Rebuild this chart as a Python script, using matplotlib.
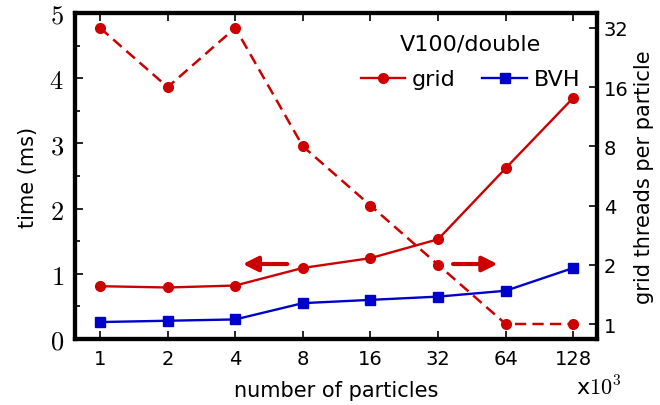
import matplotlib
matplotlib.use("Agg")
import matplotlib.pyplot as plt
from matplotlib.ticker import FuncFormatter, FixedLocator, NullLocator

plt.rcParams['font.family'] = ['DejaVu Sans']
plt.rcParams['mathtext.fontset'] = 'cm'

particles = ["1", "2", "4", "8", "16", "32", "64", "128"]
grid_time = [0.81, 0.79, 0.82, 1.09, 1.24, 1.53, 2.62, 3.70]
bvh_time = [0.26, 0.28, 0.30, 0.55, 0.60, 0.65, 0.74, 1.09]
grid_threads = [32, 16, 32, 8, 4, 2, 1, 1]
threads_ticks = [1, 2, 4, 8, 16, 32]

red = '#cc0000'
blue = '#0000cc'

fig = plt.figure(figsize=(6.6, 4.06), dpi=100)
ax = fig.add_axes([75/660, 1-340/406, (597-75)/660, (340-14)/406])
ax2 = ax.twinx()

x = list(range(len(particles)))
ax.plot(x, grid_time, '-o', color=red, lw=1.7, ms=7, label='grid', zorder=3)
ax.plot(x, bvh_time, '-s', color=blue, lw=1.7, ms=6.5, label='BVH', zorder=3)
ax2.plot(x, grid_threads, marker='o', color=red, lw=1.8, ms=7, linestyle=(0, (4.5, 2.5)))

ax.set_xlim(-0.37, 7.35)
ax.set_ylim(0, 5)
ax.set_xticks(x)
ax.set_xticklabels(particles, fontsize=14)
ax.set_yticks([0, 1, 2, 3, 4, 5])
ax.yaxis.set_minor_locator(FixedLocator([0.5, 1.5, 2.5, 3.5, 4.5]))
ax.yaxis.set_major_formatter(FuncFormatter(lambda v, p: r"$%d$" % round(v)))
ax.tick_params(axis='y', which='major', labelsize=19, direction='in', length=6, width=1.2, pad=8)
ax.tick_params(axis='y', which='minor', direction='in', length=3.5, width=1.2)
ax.tick_params(axis='x', which='major', direction='in', length=6, width=1.2, top=True, bottom=True, pad=7)
ax.tick_params(axis='y', right=False)

ax2.set_yscale('log', base=2)
ax2.set_ylim(0.839, 38.1)
ax2.yaxis.set_major_locator(FixedLocator(threads_ticks))
ax2.yaxis.set_minor_locator(NullLocator())
ax2.yaxis.set_major_formatter(FuncFormatter(lambda v, p: "%d" % round(v)))
ax2.tick_params(axis='y', which='major', labelsize=14, direction='in', length=6, width=1.2, pad=5)

for a in (ax, ax2):
    for s in a.spines.values():
        s.set_linewidth(3)

ax.set_xlabel("number of particles", fontsize=15, labelpad=9)
ax.set_ylabel("time (ms)", fontsize=15, labelpad=8)
ax2.set_ylabel("grid threads per particle", fontsize=15, labelpad=4)

arrow_style = dict(arrowstyle='-|>,head_length=0.9,head_width=0.45', color=red, lw=3)
ax.annotate('', xy=(2.07, 1.15), xytext=(2.81, 1.15), arrowprops=arrow_style)
ax.annotate('', xy=(5.92, 1.15), xytext=(5.18, 1.15), arrowprops=arrow_style)

leg = ax.legend(loc='upper right', bbox_to_anchor=(580/660, 1-35/406), bbox_transform=fig.transFigure,
                ncol=2, frameon=False, fontsize=16, title='V100/double', title_fontsize=16,
                handlelength=2.0, handletextpad=0.3, columnspacing=1.2, borderaxespad=0,
                borderpad=0)
leg._legend_box.sep = 11

fig.text(576/660, 1-396/406, r"x$10^3$", fontsize=16, ha='left', va='baseline')

fig.savefig('out.png', dpi=100)
